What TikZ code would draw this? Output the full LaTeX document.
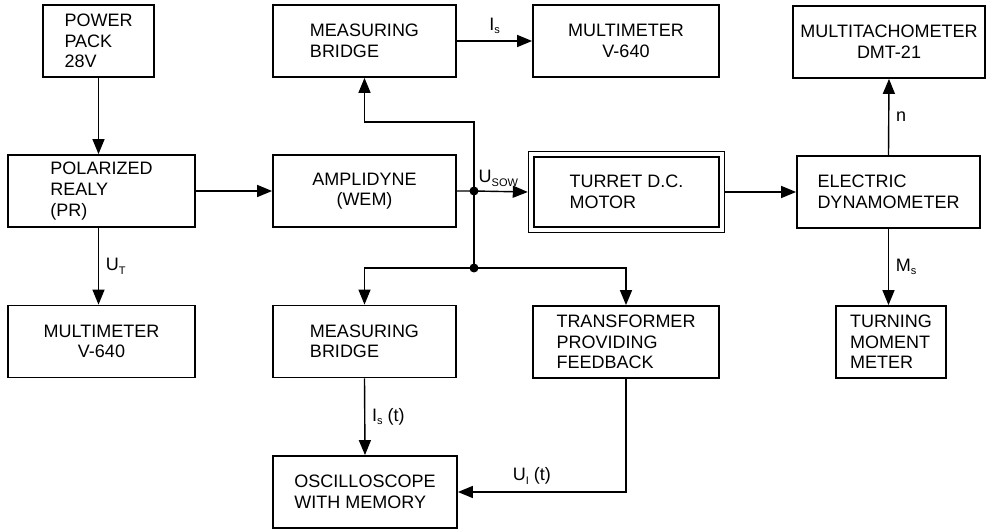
\documentclass[tikz,border=0pt]{standalone}
\usepackage{fontspec}
\setmainfont{Liberation Sans}
\usetikzlibrary{arrows.meta,positioning,fit}
\newcommand{\sbs}[1]{\raisebox{-0.35ex}{\fontsize{5.5}{6}\selectfont #1}}

\begin{document}
\begin{tikzpicture}[>={Triangle[length=7.5pt,width=6pt]},x=0.5pt,y=-0.5pt,
  font=\fontsize{9}{10.3}\selectfont,
  blk/.style={draw,line width=0.9pt,minimum height=36pt,inner sep=2pt,align=left},
  link/.style={line width=0.7pt},
  dot/.style={circle,fill,inner sep=0pt,minimum size=4.5pt}]
 \useasboundingbox (0,0) rectangle (992,529);
 % top row
 \node[blk,minimum width=55.5pt] (pack) at (98.5,41) {POWER\\PACK\\28V};
 \node[blk,minimum width=91.5pt] (bridgeT) at (364.5,41) {MEASURING\\BRIDGE};
 \node[blk,minimum width=93pt,align=center] (multiT) at (626,41) {MULTIMETER\\V-640};
 \node[blk,minimum width=96pt,align=center] (tacho) at (889,42) {MULTITACHOMETER\\DMT-21};
 % middle row
 \node[blk,minimum width=93.5pt] (relay) at (101.5,191) {POLARIZED\\REALY\\(PR)};
 \node[blk,minimum width=91.5pt,align=center] (amp) at (364.5,191) {AMPLIDYNE\\(WEM)};
 \node[blk,minimum width=92.5pt,minimum height=35pt,line width=0.8pt] (motor) at (626.5,192) {TURRET D.C.\\MOTOR};
 \node[draw,line width=0.8pt,fit=(motor),inner sep=2.3pt] (motbox) {};
 \node[blk,minimum width=91.5pt] (dyno) at (888.5,192) {ELECTRIC\\DYNAMOMETER};
 % bottom row
 \node[blk,minimum width=93.5pt,align=center] (multiB) at (101.5,341.5) {MULTIMETER\\V-640};
 \node[blk,minimum width=91.5pt] (bridgeB) at (364.5,341.5) {MEASURING\\BRIDGE};
 \node[blk,minimum width=93pt] (trans) at (626,342) {TRANSFORMER\\PROVIDING\\FEEDBACK};
 \node[blk,minimum width=55pt] (torque) at (891,342) {TURNING\\MOMENT\\METER};
 \node[blk,minimum width=92pt] (osc) at (365,492) {OSCILLOSCOPE\\WITH MEMORY};
 % junctions
 \node[dot] (j1) at (474,191) {};
 \node[dot] (j2) at (474,268) {};
 \coordinate (tap) at (474,122);
 % connectors
 \draw[link,->] (pack.south) -- (pack.south |- relay.north);
 \draw[link,->] (relay.east) -- (amp.west);
 \draw[link,->] (pack.south |- relay.south) -- node[right]{U\sbs{T}} (pack.south |- multiB.north);
 \draw[link,->] (amp.east) -- (j1.center) node[above right,inner sep=2pt]{U\sbs{SOW}} -- (motbox.west);
 \draw[link,->] (j2.center) -- (tap) -| (bridgeT.south);
 \draw[link,->] (j2.center) -| (bridgeB.north);
 \draw[link,->] (j2.center) -| (trans.north);
 \draw[link,->] (bridgeT.east) -- node[above]{I\sbs{s}} (multiT.west);
 \draw[link,->] (motbox.east) -- (dyno.west);
 \draw[link,->] (dyno.north) -- node[right]{n} (tacho.south);
 \draw[link,->] (dyno.south) -- node[right]{M\sbs{s}} (dyno.south |- torque.north);
 \draw[link,->] (bridgeB.south) -- node[right]{I\sbs{s} (t)} (osc.north);
 \draw[link,->] (trans.south) |- node[pos=0.78,above]{U\sbs{I} (t)} (osc.east);
\end{tikzpicture}
\end{document}
